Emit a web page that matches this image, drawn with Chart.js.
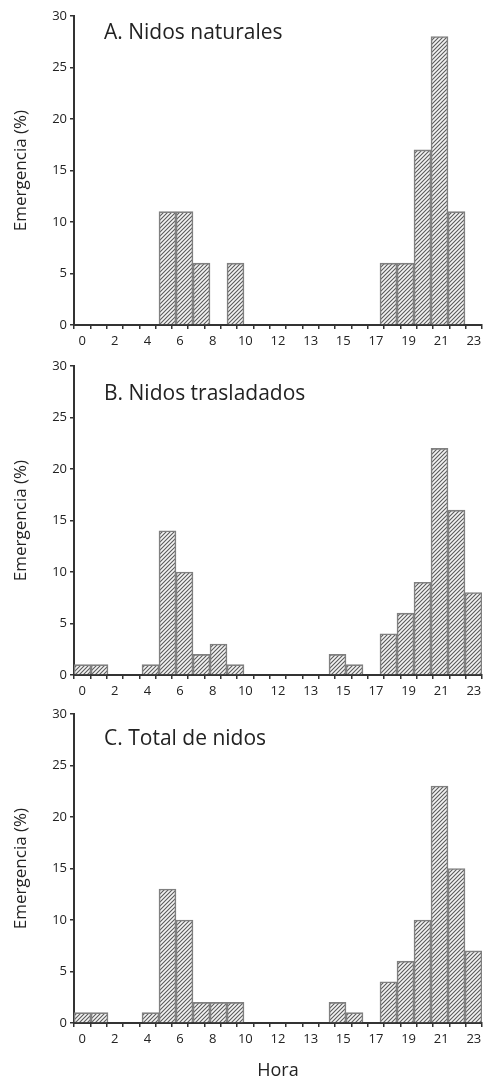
<!DOCTYPE html>
<html>
<head>
<meta charset="utf-8">
<script src="https://cdn.jsdelivr.net/npm/chart.js@4.4.0/dist/chart.umd.min.js"></script>
<style>
  html, body { margin: 0; padding: 0; background: #fff; }
  #page { position: relative; width: 486px; height: 1082px; }
  .panel { position: absolute; left: 0; width: 486px; }
</style>
</head>
<body>
<div id="page">
  <div class="panel" id="boxA" style="top:0px;height:350px"><canvas id="chartA"></canvas></div>
  <div class="panel" id="boxB" style="top:350px;height:350px"><canvas id="chartB"></canvas></div>
  <div class="panel" id="boxC" style="top:698px;height:384px"><canvas id="chartC"></canvas></div>
</div>
<script>
// one slot per hour bin (24 bins between 25 boundary ticks)
const slots = ['0','1','2','3','4','5','6','7','8','9','10','11','12','13','14','15','16','17','18','19','20','21','22','23'];
// labels printed on every second boundary tick (as in the original figure)
const hourLabels = ['0', '2', '4', '6', '8', '10', '12', '13', '15', '17', '19', '21', '23'];

const naturales   = [0, 0, 0, 0, 0, 11, 11, 6, 0, 6, 0, 0, 0, 0, 0, 0, 0, 0, 6, 6, 17, 28, 11, 0];
const trasladados = [1, 1, 0, 0, 1, 14, 10, 2, 3, 1, 0, 0, 0, 0, 0, 2, 1, 0, 4, 6, 9, 22, 16, 8];
const total       = [1, 1, 0, 0, 1, 13, 10, 2, 2, 2, 0, 0, 0, 0, 0, 2, 1, 0, 4, 6, 10, 23, 15, 7];

const panelTitles = ['A. Nidos naturales', 'B. Nidos trasladados', 'C. Total de nidos'];
const yTitle = 'Emergencia (%)';
const xTitle = 'Hora';

const FONT = "'Open Sans', 'Noto Sans', sans-serif";
const AXIS = '#333';

function makeHatch() {
    const c = document.createElement('canvas');
    c.width = 4; c.height = 4;
    const g = c.getContext('2d');
    g.fillStyle = '#f4f4f4';
    g.fillRect(0, 0, 4, 4);
    g.strokeStyle = '#5a5a5a';
    g.lineWidth = 1.1;
    g.beginPath();
    g.moveTo(-1, 5); g.lineTo(5, -1);
    g.moveTo(-1, 1); g.lineTo(1, -1);
    g.moveTo(3, 5); g.lineTo(5, 3);
    g.stroke();
    return g.createPattern(c, 'repeat');
}

const panelTitlePlugin = {
    id: 'panelTitle',
    afterDraw(chart, args, opts) {
        const ctx = chart.ctx;
        ctx.save();
        ctx.font = '21px ' + FONT;
        ctx.fillStyle = '#222';
        ctx.textBaseline = 'alphabetic';
        ctx.fillText(opts.text, chart.chartArea.left + 30, chart.chartArea.top + opts.dy);
        ctx.restore();
    }
};

function createPanel(canvasId, values, title, titleDy, showXTitle) {
    const ctx = document.getElementById(canvasId).getContext('2d');
    return new Chart(ctx, {
        type: 'bar',
        data: {
            labels: slots,
            datasets: [{
                data: values,
                backgroundColor: makeHatch(),
                borderColor: '#808080',
                borderWidth: 1.6,
                borderSkipped: 'bottom',
                barPercentage: 1,
                categoryPercentage: 1,
                xAxisID: 'x'
            }]
        },
        options: {
            responsive: true,
            maintainAspectRatio: false,
            animation: false,
            layout: { padding: { top: 16, right: 4, left: 0, bottom: 0 } },
            plugins: {
                legend: { display: false },
                tooltip: { enabled: false },
                panelTitle: { text: title, dy: titleDy }
            },
            scales: {
                x: {
                    type: 'category',
                    display: false,
                    offset: true
                },
                xt: {
                    type: 'linear',
                    position: 'bottom',
                    min: 0,
                    max: 24,
                    afterFit(scale) { scale.height = showXTitle ? 59 : 25; },
                    ticks: {
                        stepSize: 1,
                        autoSkip: false,
                        maxRotation: 0,
                        padding: 4,
                        color: '#222',
                        font: { family: FONT, size: 13 },
                        callback: v => (v % 2 === 0 ? hourLabels[v / 2] : '')
                    },
                    grid: { drawOnChartArea: false, tickLength: 4, color: AXIS, lineWidth: 1.5 },
                    border: { display: true, color: AXIS, width: 2 },
                    title: {
                        display: showXTitle,
                        text: xTitle,
                        color: '#222',
                        font: { family: FONT, size: 18 },
                        padding: { top: 0, bottom: 0 }
                    }
                },
                y: {
                    min: 0,
                    max: 30,
                    afterFit(scale) { scale.width = 74; },
                    ticks: {
                        stepSize: 5,
                        padding: 3,
                        color: '#222',
                        font: { family: FONT, size: 13 }
                    },
                    grid: { drawOnChartArea: false, tickLength: 4, color: AXIS, lineWidth: 1.5 },
                    border: { display: true, color: AXIS, width: 2 },
                    title: {
                        display: true,
                        text: yTitle,
                        color: '#222',
                        font: { family: FONT, size: 17 },
                        padding: { top: 11, bottom: 0 }
                    }
                }
            }
        },
        plugins: [panelTitlePlugin]
    });
}

document.addEventListener('DOMContentLoaded', function() {
    createPanel('chartA', naturales, panelTitles[0], 23, false);
    createPanel('chartB', trasladados, panelTitles[1], 34, false);
    createPanel('chartC', total, panelTitles[2], 31, true);
});
</script>
</body>
</html>
